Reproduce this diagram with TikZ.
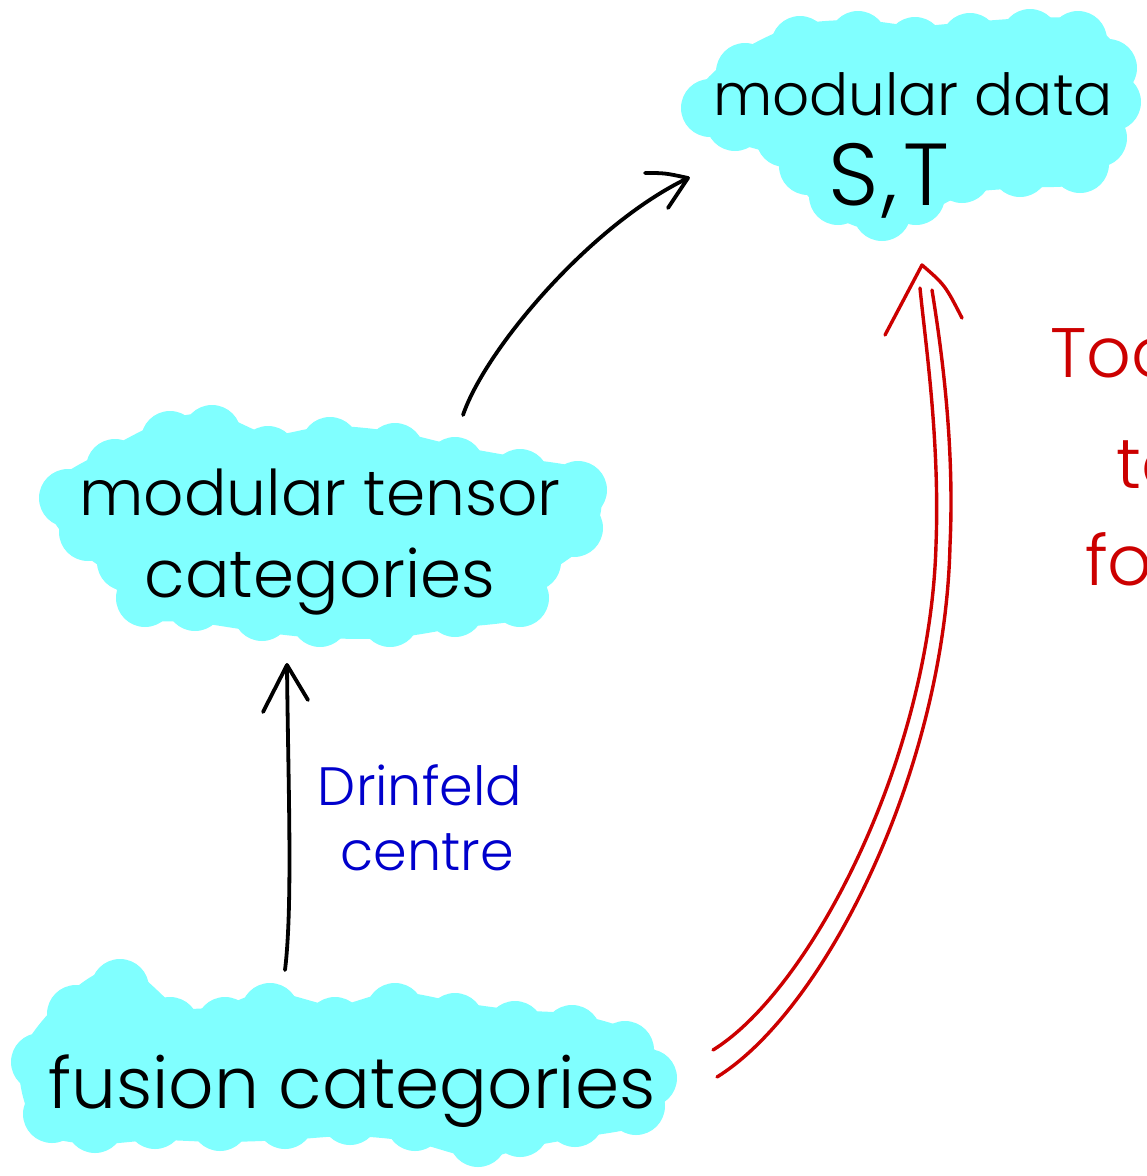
\documentclass[tikz,border=0pt]{standalone}
\usepackage{fontspec}
\IfFontExistsTF{Poppins Light}{\setmainfont{Poppins Light}}{\setmainfont{Poppins}}
\definecolor{cloudcyan}{RGB}{128,255,255}
\definecolor{inkred}{RGB}{204,0,0}
\definecolor{inkblue}{RGB}{0,0,204}
\tikzset{
  ink/.style={draw=black,line width=3.8pt,line cap=round,line join=round},
  redink/.style={draw=inkred,line width=3.4pt,line cap=round,line join=round},
  cloudbody/.style={fill=cloudcyan,draw=cloudcyan,line width=40pt,line join=round},
  hand/.style={inner sep=0pt,text=black,font=\fontsize{58}{64}\selectfont},
  bluehand/.style={inner sep=0pt,text=inkblue,font=\fontsize{54}{60}\selectfont},
  redhand/.style={inner sep=0pt,text=inkred,font=\fontsize{70}{76}\selectfont},
}
% a cloud: a rounded body through the given points, with a soft bump at each point
\newcommand{\cloudshape}[1]{%
  \gdef\cloudpts{}%
  \foreach \cx/\cy in {#1} {\xdef\cloudpts{\cloudpts (\cx,\cy)}}%
  \edef\cloudpath{\noexpand\filldraw[cloudbody] plot[smooth cycle,tension=0.5] coordinates {\cloudpts};}%
  \cloudpath
  \foreach \cx/\cy in {#1} {\fill[cloudcyan] (\cx,\cy) circle[radius=29pt];}}
\begin{document}
\begin{tikzpicture}[x=1pt,y=-1pt]
\useasboundingbox (0,0) rectangle (1147,1176);
\fill[white] (0,0) rectangle (1147,1176);

% cloud behind "modular data / S,T"
\cloudshape{710/108,745/72,800/45,858/40,915/46,970/42,1030/38,1078/40,1108/68,
  1112/102,1098/138,1080/164,1020/168,962/174,916/196,882/212,838/196,808/166,
  785/138,735/122}

% cloud behind "modular tensor categories"
\cloudshape{68/498,115/468,170/440,212/434,268/455,330/446,395/452,455/466,
  520/478,578/490,574/528,532/562,520/598,455/608,390/618,320/618,262/612,
  195/602,145/598,126/562,88/532}

% cloud behind "fusion categories"
\cloudshape{40/1062,76/1014,120/988,170/1026,225/1026,270/1012,335/1026,395/1012,
  455/1022,515/1030,572/1034,625/1050,648/1078,636/1106,575/1118,520/1128,
  478/1138,415/1122,350/1116,285/1120,220/1122,155/1120,95/1124,52/1114}

% labels
\node[hand,anchor=base] (mdata) at (913,115) {modular data};
\node[hand,anchor=base,font=\fontsize{88}{94}\selectfont] (st) at (889,205) {S\kern4pt,\kern6pt T};
\node[hand,anchor=base,font=\fontsize{63}{70}\selectfont] (mtc1) at (320,515) {modular tensor};
\node[hand,anchor=base,font=\fontsize{66}{72}\selectfont] (mtc2) at (320,597) {categories};
\node[hand,anchor=base,font=\fontsize{71}{78}\selectfont] (fus) at (352,1108) {fusion categories};
\node[bluehand,anchor=base] (drin1) at (420,805) {Drinfeld};
\node[bluehand,anchor=base] (drin2) at (427,870) {centre};
\begin{scope}
  \clip (0,0) rectangle (1147,1176);
  \node[redhand,anchor=base west] (red1) at (1050,377) {Too hard};
  \node[redhand,anchor=base west] (red2) at (1116,488) {to};
  \node[redhand,anchor=base west] (red3) at (1085,585) {formalise};
\end{scope}

% arrow: modular tensor categories -> modular data
\coordinate (a1s) at (463,415);
\coordinate (a1e) at (688,178);
\draw[ink] (a1s) .. controls (485,350) and (590,225) .. (a1e);
\draw[ink] (645,173) .. controls (665,173) .. (a1e) -- (668,208);

% arrow: fusion categories -> modular tensor categories
\coordinate (a2s) at (285,970);
\coordinate (a2e) at (287,665);
\draw[ink] (a2s) .. controls (293,905) and (288,780) .. (a2e);
\draw[ink] (263,712) -- (a2e) -- (308,700);

% double arrow: fusion categories => modular data
\coordinate (r1s) at (713,1050);
\coordinate (r1m) at (936,545);
\coordinate (r1e) at (920,288);
\coordinate (r2s) at (717,1077);
\coordinate (r2m) at (950,545);
\coordinate (r2e) at (932,290);
\coordinate (rtip) at (922,265);
\draw[redink] (r1s) .. controls (810,990) and (930,760) .. (r1m) .. controls (940,440) and (925,340) .. (r1e);
\draw[redink] (r2s) .. controls (825,1010) and (945,770) .. (r2m) .. controls (955,440) and (940,340) .. (r2e);
\draw[redink] (885,335) -- (rtip) .. controls (945,285) .. (962,318);
\end{tikzpicture}
\end{document}
